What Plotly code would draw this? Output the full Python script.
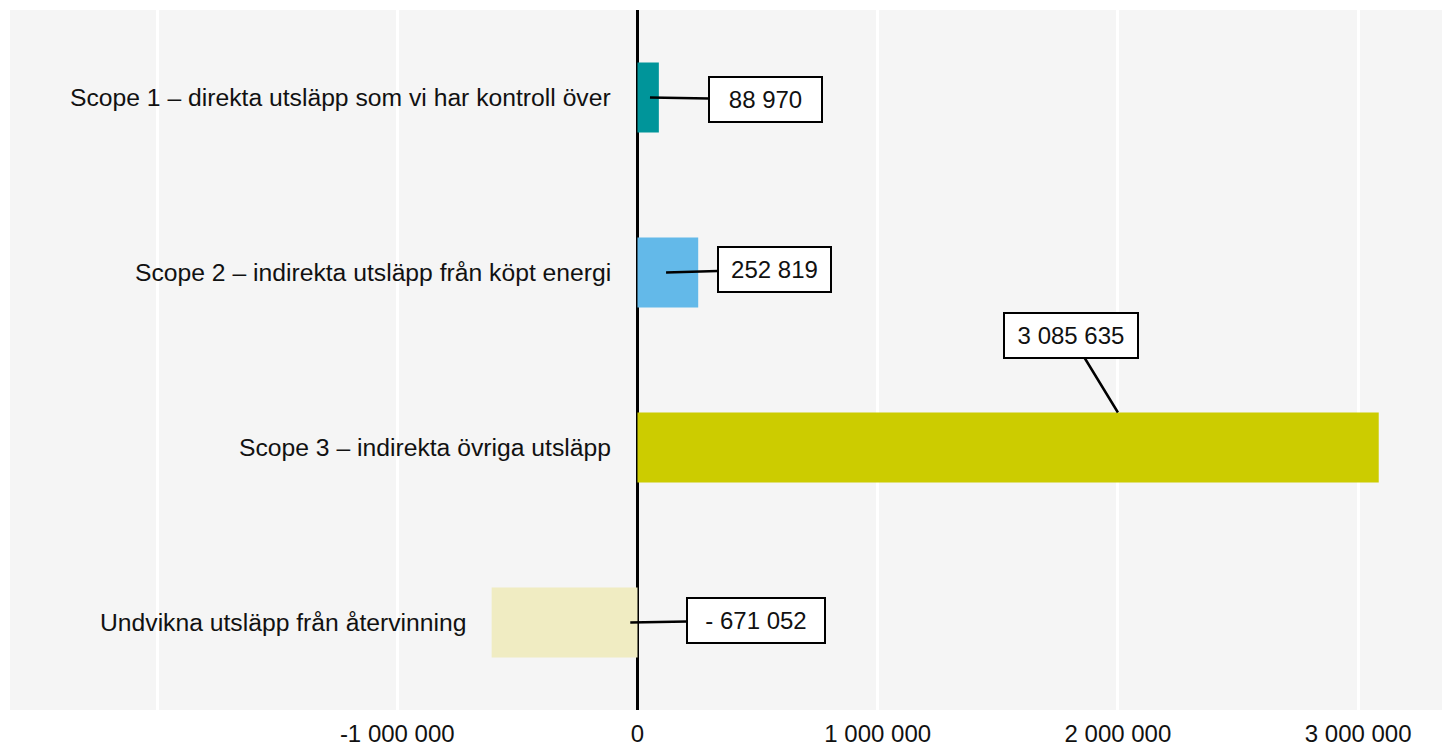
import plotly.graph_objects as go

categories = [
    "Scope 1 – direkta utsläpp som vi har kontroll över",
    "Scope 2 – indirekta utsläpp från köpt energi",
    "Scope 3 – indirekta övriga utsläpp",
    "Undvikna utsläpp från återvinning",
]
bar_values = [88970, 252819, 3085635, -607000]
value_labels = ["88 970", "252 819", "3 085 635", "- 671 052"]
colors = ["#00959A", "#63B9E9", "#CCCC00", "#F0ECC2"]
tick_vals = [-2000000, -1000000, 0, 1000000, 2000000, 3000000]
tick_text = ["", "-1 000 000", "0", "1 000 000", "2 000 000", "3 000 000"]

FONT = "Liberation Sans"
FS = 24

fig = go.Figure()
fig.add_trace(go.Bar(
    y=categories, x=bar_values, orientation="h",
    marker=dict(color=colors, line=dict(width=0)),
    width=0.4, hoverinfo="skip",
))

ann = []
for cat, v in zip(categories, bar_values):
    ann.append(dict(x=min(0, v), y=cat, xref="x", yref="y", text=cat,
                    showarrow=False, xanchor="right", yanchor="middle",
                    xshift=-24, font=dict(family=FONT, size=24.7, color="#111111")))

# callouts: (tip x, tip y offset within category, ax, ay, box text width)
callouts = [
    (52000, 0.0, 116, 2, 95),
    (119000, 0.0, 108, -3, 95),
    (2000000, -0.2, -47, -77, 116),
    (-30000, 0.0, 126, -2, 120),
]
for i, (tx, dy, ax, ay, w) in enumerate(callouts):
    ann.append(dict(x=tx, y=i + dy, xref="x", yref="y", text=value_labels[i],
                    showarrow=True, arrowhead=0, arrowwidth=2.5, arrowcolor="black",
                    ax=ax, ay=ay, standoff=0, startstandoff=0,
                    width=w, height=27, align="center", valign="middle",
                    bgcolor="white", bordercolor="black", borderwidth=2, borderpad=8,
                    font=dict(family=FONT, size=FS, color="#111111")))

fig.update_layout(
    width=1445, height=742,
    margin=dict(l=2, r=11, t=2, b=40, autoexpand=False),
    paper_bgcolor="white", plot_bgcolor="#F5F5F5",
    showlegend=False,
    annotations=ann,
    font=dict(family=FONT, size=FS, color="#111111"),
)
fig.update_xaxes(
    range=[-2612000, 3349000], tickvals=tick_vals, ticktext=tick_text,
    showgrid=True, gridcolor="white", gridwidth=3,
    zeroline=True, zerolinecolor="black", zerolinewidth=2.5,
    ticks="", ticklabelstandoff=7, automargin=False,
    tickfont=dict(family=FONT, size=FS, color="#111111"),
    fixedrange=True,
)
fig.update_yaxes(
    showticklabels=False, showgrid=False, zeroline=False, automargin=False,
    ticks="", autorange=False, range=[3.5, -0.5], fixedrange=True,
)

fig.write_html("out.html")
